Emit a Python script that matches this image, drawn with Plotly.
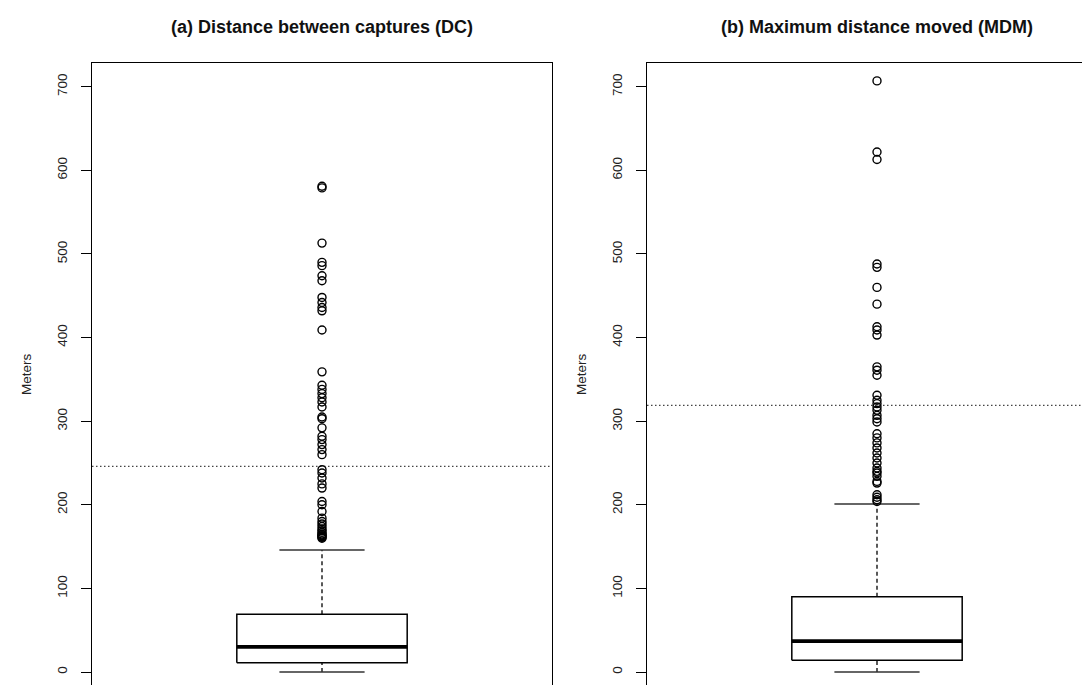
import plotly.graph_objects as go

# ---------------- data ----------------
panel_titles = ["(a) Distance between captures (DC)", "(b) Maximum distance moved (MDM)"]
y_title = "Meters"
y_ticks = [0, 100, 200, 300, 400, 500, 600, 700]

# box statistics: lower whisker, Q1, median, Q3, upper whisker
dc_stats = [0, 11, 30, 69, 146]
mdm_stats = [0, 14, 37, 90, 201]

dc_outliers = [581, 579, 513, 490, 486, 474, 468, 448, 442, 436, 432, 409,
               359, 343, 338, 333, 328, 323, 317, 305, 303, 292, 282, 278,
               272, 266, 260, 242, 238, 232, 225, 220, 204, 200, 192, 184,
               180, 177, 174, 171, 169, 167, 165, 164, 163, 162, 161, 160]
mdm_outliers = [707, 622, 613, 488, 484, 460, 440, 413, 409, 403, 365, 361,
                355, 331, 325, 321, 317, 313, 307, 303, 299, 285, 280, 274,
                268, 262, 256, 250, 244, 240, 238, 234, 228, 226, 212, 209,
                206, 204]

# dotted reference lines
dc_ref = 246
mdm_ref = 319

# ---------------- style ----------------
FONT = "Liberation Sans, Arial, sans-serif"
W, H = 1090, 685
BOX_HALF = 0.2
CAP_HALF = 0.1
POS = 1

fig = go.Figure()


def add_panel(stats, outliers, xa, ya):
    lo, q1, med, q3, hi = stats
    line = dict(color="black", width=1.5)
    fig.add_trace(go.Scatter(
        x=[POS - BOX_HALF, POS + BOX_HALF, POS + BOX_HALF, POS - BOX_HALF, POS - BOX_HALF],
        y=[q1, q1, q3, q3, q1], mode="lines", line=line,
        xaxis=xa, yaxis=ya, showlegend=False, hoverinfo="skip"))
    fig.add_trace(go.Scatter(
        x=[POS - BOX_HALF, POS + BOX_HALF], y=[med, med], mode="lines",
        line=dict(color="black", width=3.8), xaxis=xa, yaxis=ya,
        showlegend=False, hoverinfo="skip"))
    for a, b in [(q3, hi), (lo, q1)]:
        fig.add_trace(go.Scatter(
            x=[POS, POS], y=[a, b], mode="lines",
            line=dict(color="black", width=1.3, dash="4px,3px"),
            xaxis=xa, yaxis=ya, showlegend=False, hoverinfo="skip"))
    for v in (hi, lo):
        fig.add_trace(go.Scatter(
            x=[POS - CAP_HALF, POS + CAP_HALF], y=[v, v], mode="lines",
            line=dict(color="#333", width=1.4), xaxis=xa, yaxis=ya,
            showlegend=False, hoverinfo="skip"))
    fig.add_trace(go.Scatter(
        x=[POS] * len(outliers), y=outliers, mode="markers",
        marker=dict(symbol="circle-open", size=8, color="black",
                    line=dict(color="black", width=1.4)),
        xaxis=xa, yaxis=ya, showlegend=False))


add_panel(dc_stats, dc_outliers, "x", "y")
add_panel(mdm_stats, mdm_outliers, "x2", "y2")

for ref, xr, yr in [(dc_ref, "x", "y"), (mdm_ref, "x2", "y2")]:
    fig.add_shape(type="line", xref=f"{xr} domain", yref=yr, x0=0, x1=1,
                  y0=ref, y1=ref, layer="below",
                  line=dict(color="#444", width=1.2, dash="1.5px,2.5px"))

# panel geometry (pixels)
LEFT_FRAME, RIGHT_FRAME = 84, 639
left_dom = [LEFT_FRAME / W, 544 / W]
right_dom = [RIGHT_FRAME / W, 1.0]
px_per_unit = 460 / 1.08
y_top = 1 - 55 / H
y_range = [-25.1, 728.4]

common_x = dict(showticklabels=False, ticks="", showgrid=False, zeroline=False,
                showline=True, linecolor="black", linewidth=1.3, side="top",
                fixedrange=True)
common_y = dict(range=y_range, domain=[0, y_top], tickvals=y_ticks,
                ticktext=[str(v) for v in y_ticks], ticks="outside", ticklen=10,
                tickwidth=1.2, tickcolor="black", tickangle=-90,
                ticklabelstandoff=8,
                tickfont=dict(family=FONT, size=13.5, color="#222"),
                showgrid=False, zeroline=False, showline=True,
                linecolor="black", linewidth=1.3)

fig.update_layout(
    width=W, height=H,
    margin=dict(l=0, r=0, t=0, b=0),
    paper_bgcolor="white", plot_bgcolor="white",
    xaxis=dict(domain=left_dom, range=[0.46, 1.54], anchor="y", **common_x),
    xaxis2=dict(domain=right_dom, range=[0.46, 0.46 + (W - RIGHT_FRAME) / px_per_unit],
                anchor="y2", **common_x),
    yaxis=dict(anchor="x", mirror=True, **common_y),
    yaxis2=dict(anchor="x2", mirror=False, **common_y),
    font=dict(family=FONT, color="#222"),
)

for title, dom_center in [(panel_titles[0], 314 / W), (panel_titles[1], 869 / W)]:
    fig.add_annotation(text=f"<b>{title}</b>", xref="paper", yref="paper",
                       x=dom_center, y=1 - 19 / H, xanchor="center", yanchor="middle",
                       showarrow=False, font=dict(family=FONT, size=18, color="#111"))

for frame in (LEFT_FRAME, RIGHT_FRAME):
    fig.add_annotation(text=y_title, xref="paper", yref="paper",
                       x=(frame - 65) / W, y=1 - 366 / H, xanchor="center",
                       yanchor="middle", textangle=-90, showarrow=False,
                       font=dict(family=FONT, size=13.5, color="#222"))

fig.write_html("out.html")
